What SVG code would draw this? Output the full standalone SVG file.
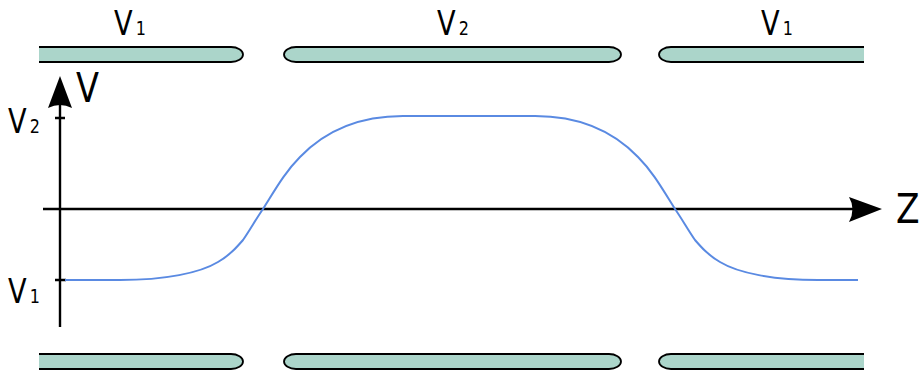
<svg xmlns="http://www.w3.org/2000/svg" width="919" height="371" viewBox="0 0 919 371">
<style>
.el{fill:#abd5ca;stroke:none}
.eo{fill:none;stroke:#000;stroke-width:1.8}
.ax{fill:none;stroke:#000;stroke-width:2.4}
.ah{fill:#000;stroke:none}
.cv{fill:none;stroke:#5a8ae2;stroke-width:2}
text{font-family:"DejaVu Sans","Liberation Sans",sans-serif;fill:#000}
.lb{font-size:34px}
.sb{font-size:20px}
.axl{font-size:41px}
</style>
<rect width="919" height="371" fill="#fff"/>
<g id="electrode-top-left">
<path class="el" d="M39,47 H231 A12,7.5 0 0 1 231,62 H39 Z"/>
<path class="eo" d="M39,47 H231 A12,7.5 0 0 1 231,62 H39"/>
</g>
<g id="electrode-top-middle">
<path class="el" d="M296,47 H609 A12,7.5 0 0 1 609,62 H296 A12,7.5 0 0 1 296,47 Z"/>
<path class="eo" d="M296,47 H609 A12,7.5 0 0 1 609,62 H296 A12,7.5 0 0 1 296,47 Z"/>
</g>
<g id="electrode-top-right">
<path class="el" d="M864,47 H671 A12,7.5 0 0 0 671,62 H864 Z"/>
<path class="eo" d="M864,47 H671 A12,7.5 0 0 0 671,62 H864"/>
</g>
<g id="electrode-bottom-left">
<path class="el" d="M39,354 H231 A12,7.5 0 0 1 231,369 H39 Z"/>
<path class="eo" d="M39,354 H231 A12,7.5 0 0 1 231,369 H39"/>
</g>
<g id="electrode-bottom-middle">
<path class="el" d="M296,354 H609 A12,7.5 0 0 1 609,369 H296 A12,7.5 0 0 1 296,354 Z"/>
<path class="eo" d="M296,354 H609 A12,7.5 0 0 1 609,369 H296 A12,7.5 0 0 1 296,354 Z"/>
</g>
<g id="electrode-bottom-right">
<path class="el" d="M864,354 H671 A12,7.5 0 0 0 671,369 H864 Z"/>
<path class="eo" d="M864,354 H671 A12,7.5 0 0 0 671,369 H864"/>
</g>
<g id="connectors">
<g id="axis-v">
<path class="ax" d="M60,327 V100"/>
<path class="ah" d="M60,76 L72,108 Q60,102 48,108 Z"/>
<path class="ax" d="M55,118 H65 M55,280 H66"/>
</g>
<g id="axis-z">
<path class="ax" d="M43,209 H860"/>
<path class="ah" d="M882,209 L849,197 Q856,209 849,222 Z"/>
</g>
</g>
<g id="curve">
<path class="cv" d="M65,280 H120 C165,280 200,273 218,262 C230,255 236,248 243,240 C250,230 256,219 263,209 C275,190 285,172 300,157 C325,131 360,116 403,116 H535 C578,116 613,131 638,157 C653,172 663,190 675,209 C682,219 688,230 695,240 C702,248 708,255 720,262 C738,273 773,280 818,280 H858"/>
</g>
<g id="label-top-v1" transform="translate(114,35) scale(0.8,1)"><text class="lb">V<tspan class="sb" dx="4">1</tspan></text></g>
<g id="label-top-v2" transform="translate(437,35) scale(0.8,1)"><text class="lb">V<tspan class="sb" dx="4">2</tspan></text></g>
<g id="label-top-v1-right" transform="translate(761,35) scale(0.8,1)"><text class="lb">V<tspan class="sb" dx="4">1</tspan></text></g>
<g id="label-axis-v" transform="translate(76,102) scale(0.82,1)"><text class="axl">V</text></g>
<g id="label-axis-z" transform="translate(896,223) scale(0.84,1)"><text class="axl">Z</text></g>
<g id="label-left-v2" transform="translate(8,133) scale(0.8,1)"><text class="lb">V<tspan class="sb" dx="4">2</tspan></text></g>
<g id="label-left-v1" transform="translate(8,303) scale(0.8,1)"><text class="lb">V<tspan class="sb" dx="4">1</tspan></text></g>
</svg>
